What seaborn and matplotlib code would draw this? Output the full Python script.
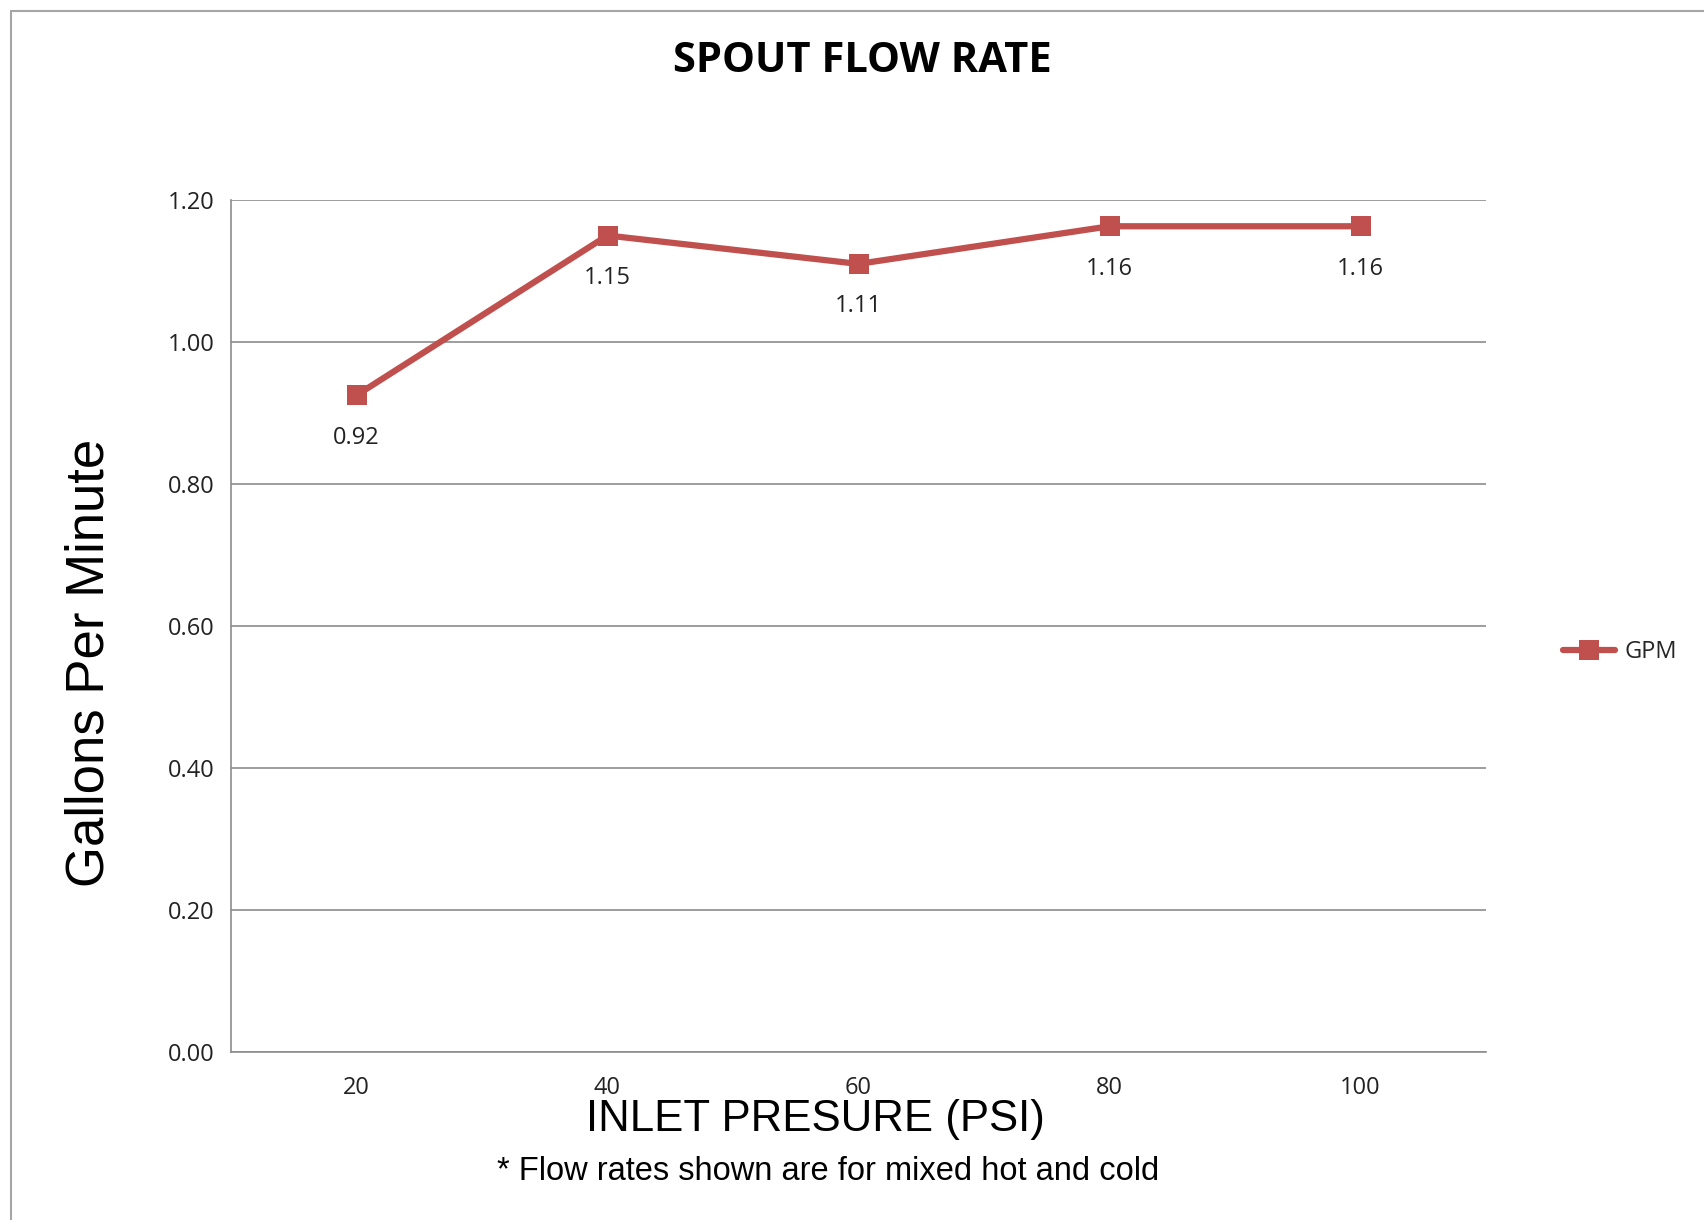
import matplotlib
matplotlib.use("Agg")
import matplotlib.pyplot as plt
import seaborn as sns
import pandas as pd
from matplotlib.patches import Rectangle

pressure = ["20", "40", "60", "80", "100"]
gpm = [0.925, 1.15, 1.11, 1.163, 1.163]
gpm_labels = ["0.92", "1.15", "1.11", "1.16", "1.16"]
y_ticks = [0.0, 0.2, 0.4, 0.6, 0.8, 1.0, 1.2]

sns.set_theme(style="white")
plt.rcParams["font.family"] = ["Liberation Sans", "DejaVu Sans"]

W, H = 1704, 1220
fig = plt.figure(figsize=(W / 100, H / 100), dpi=100)
fig.patch.set_facecolor("white")

# outer frame
fig.add_artist(Rectangle((11 / W, -0.05), 1.2, 1 - 11 / H + 0.05, transform=fig.transFigure,
                         fill=False, edgecolor="#A6A6A6", linewidth=1.5))

ax = fig.add_axes([231 / W, 1 - 1052 / H, (1486 - 231) / W, (1052 - 200) / H])

df = pd.DataFrame({"pressure": pressure, "gpm": gpm})
red = "#C0504D"
sns.lineplot(data=df, x="pressure", y="gpm", ax=ax, color=red, linewidth=4.5,
             marker="s", markersize=15, markeredgewidth=0, label="GPM", legend=False)

ax.set_xlim(-0.5, len(pressure) - 0.5)
ax.set_ylim(0, 1.2)
ax.set_yticks(y_ticks)
ax.set_yticklabels([f"{v:.2f}" for v in y_ticks])
ax.yaxis.grid(True, color="#8C8C8C", linewidth=1.2)
ax.xaxis.grid(False)
for s in ["top", "right"]:
    ax.spines[s].set_visible(False)
ax.spines["left"].set_color("#8C8C8C")
ax.spines["bottom"].set_color("#8C8C8C")
ax.spines["left"].set_linewidth(1.2)
ax.spines["bottom"].set_linewidth(1.2)
ax.tick_params(axis="both", length=0, labelsize=17, colors="#222222")
ax.tick_params(axis="y", pad=12)
ax.tick_params(axis="x", pad=17)
for lbl in ax.get_xticklabels() + ax.get_yticklabels():
    lbl.set_fontfamily(["Open Sans", "DejaVu Sans"])

for i, (v, t) in enumerate(zip(gpm, gpm_labels)):
    ax.annotate(t, (i, v), xytext=(0, -22), textcoords="offset points",
                ha="center", va="top", fontsize=17, color="#222222",
                fontfamily=["Open Sans", "DejaVu Sans"])

ax.set_xlabel("")
ax.set_ylabel("")

fig.text(862 / W, 1 - 61 / H, "SPOUT FLOW RATE", ha="center", va="center",
         fontsize=30, fontweight="bold", fontfamily=["Open Sans", "DejaVu Sans"], color="black")
fig.text(90 / W, 1 - 663 / H, "Gallons Per Minute", rotation=90, ha="center", va="center",
         fontsize=38, color="black")
fig.text(815 / W, 1 - 1119 / H, "INLET PRESURE (PSI)", ha="center", va="center",
         fontsize=31.5, color="black")
fig.text(828 / W, 1 - 1172 / H, "* Flow rates shown are for mixed hot and cold",
         ha="center", va="center", fontsize=23.5, color="black")

handles, labels = ax.get_legend_handles_labels()
leg = fig.legend(handles, labels, loc="center left", bbox_to_anchor=(1542 / W, 1 - 652 / H),
                 frameon=False, handlelength=2.2, handletextpad=0.4,
                 prop={"family": ["Open Sans", "DejaVu Sans"], "size": 17})

fig.savefig("out.png", dpi=100)
